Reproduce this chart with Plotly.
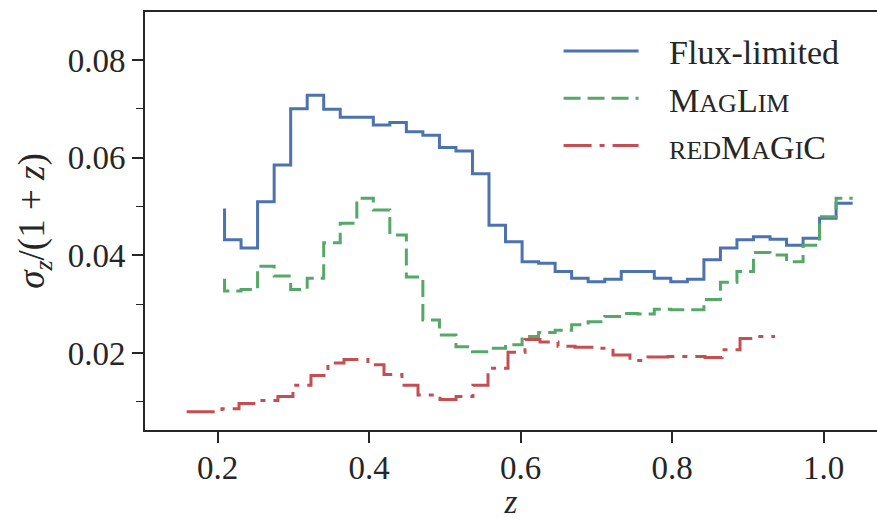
import plotly.graph_objects as go

# ---------------- data ----------------
# common bin edges (redshift z) for Flux-limited and MagLim
z_edges = [0.2092, 0.2310, 0.2528, 0.2747, 0.2965, 0.3183, 0.3401, 0.3619,
           0.3838, 0.4056, 0.4274, 0.4492, 0.4710, 0.4929, 0.5147, 0.5365,
           0.5583, 0.5801, 0.6020, 0.6238, 0.6456, 0.6674, 0.6892, 0.7111,
           0.7329, 0.7547, 0.7765, 0.7983, 0.8202, 0.8420, 0.8638, 0.8856,
           0.9074, 0.9293, 0.9511, 0.9729, 0.9947, 1.0165, 1.0384]

flux_limited = [0.0496,
                0.0432, 0.0415, 0.0510, 0.0585, 0.0700, 0.0728, 0.0699, 0.0683,
                0.0683, 0.0667, 0.0672, 0.0653, 0.0646, 0.0621, 0.0614, 0.0567,
                0.0462, 0.0428, 0.0387, 0.0384, 0.0367, 0.0353, 0.0346, 0.0351,
                0.0367, 0.0367, 0.0353, 0.0346, 0.0351, 0.0391, 0.0415, 0.0432,
                0.0438, 0.0433, 0.0421, 0.0435, 0.0476, 0.0507]

maglim = [0.0352,
          0.0327, 0.0330, 0.0378, 0.0358, 0.0330, 0.0353, 0.0426, 0.0466,
          0.0517, 0.0493, 0.0442, 0.0356, 0.0268, 0.0237, 0.0213, 0.0203,
          0.0210, 0.0217, 0.0234, 0.0242, 0.0247, 0.0258, 0.0264, 0.0275,
          0.0281, 0.0280, 0.0290, 0.0289, 0.0289, 0.0310, 0.0345, 0.0367,
          0.0406, 0.0401, 0.0387, 0.0421, 0.0479, 0.0517]

# redMaGiC step edges and values
red_edges = [0.1592, 0.2058, 0.2283, 0.2507, 0.2797, 0.2995, 0.3233, 0.3457,
             0.3669, 0.3985, 0.4197, 0.4434, 0.4646, 0.4936, 0.5148, 0.5371,
             0.5570, 0.5834, 0.6058, 0.6256, 0.6494, 0.6718, 0.7022, 0.7220,
             0.7444, 0.7682, 0.7946, 0.8171, 0.8435, 0.8659, 0.8897, 0.9121,
             0.9359]
redmagic = [0.0080, 0.0086, 0.0097, 0.0103, 0.0111, 0.0134, 0.0154, 0.0180,
            0.0187, 0.0176, 0.0156, 0.0134, 0.0114, 0.0105, 0.0111, 0.0134,
            0.0169, 0.0202, 0.0228, 0.0223, 0.0214, 0.0212, 0.0210, 0.0196,
            0.0185, 0.0192, 0.0193, 0.0193, 0.0191, 0.0207, 0.0230, 0.0234]

x_ticks = [0.2, 0.4, 0.6, 0.8, 1.0]
y_ticks = [0.02, 0.04, 0.06, 0.08]
y_minor = [0.01, 0.03, 0.05, 0.07]

PAD = "\u00a0\u00a0\u00a0"
names = [PAD + "Flux-limited",
         PAD + 'M<span style="font-size:26px">AG</span>L<span style="font-size:26px">IM</span>',
         PAD + '<span style="font-size:26px">RED</span>M<span style="font-size:26px">A</span>G'
         '<span style="font-size:26px">I</span>C']
colors = ["#4C72B0", "#55A868", "#C44E52"]

FONT = "Liberation Serif"
INK = "#262626"

fig = go.Figure()
fig.add_trace(go.Scatter(x=z_edges, y=flux_limited, mode="lines", name=names[0],
                         line=dict(color=colors[0], width=3, shape="vh")))
fig.add_trace(go.Scatter(x=z_edges, y=maglim, mode="lines", name=names[1],
                         line=dict(color=colors[1], width=3, shape="vh", dash="17px,7px")))
fig.add_trace(go.Scatter(x=red_edges, y=redmagic + [redmagic[-1]], mode="lines", name=names[2],
                         line=dict(color=colors[2], width=3, shape="hv", dash="28px,8px,5px,8px")))

axis_common = dict(showline=True, linecolor=INK, linewidth=1.8, showgrid=False,
                   zeroline=False, ticks="outside", tickcolor=INK, tickwidth=1.6,
                   ticklen=11, tickfont=dict(family=FONT, size=33, color=INK))

fig.update_xaxes(range=[0.1042, 1.0705], tickvals=x_ticks, tickformat=".1f", mirror=True,
                 ticklabelstandoff=-4,
                 title=dict(text="<i>z</i>", font=dict(family=FONT, size=33, color=INK),
                            standoff=0),
                 **axis_common)
fig.update_yaxes(range=[0.00426, 0.08983], tickvals=y_ticks, tickformat=".2f", mirror=False,
                 minor=dict(tickvals=y_minor, ticks="outside", ticklen=7, tickwidth=1.4,
                            tickcolor=INK),
                 title=dict(text="<i>σ</i><sub><i>z</i></sub>/(1 + <i>z</i>)",
                            font=dict(family=FONT, size=37, color=INK), standoff=12),
                 **axis_common)

fig.update_layout(
    width=877, height=520,
    margin=dict(l=145, r=0, t=12, b=90, autoexpand=False),
    paper_bgcolor="white", plot_bgcolor="white",
    showlegend=True,
    legend=dict(x=0.565, y=0.975, xanchor="left", yanchor="top",
                bgcolor="rgba(0,0,0,0)", itemwidth=75,
                font=dict(family=FONT, size=34, color=INK)),
)

fig.write_html("out.html")
